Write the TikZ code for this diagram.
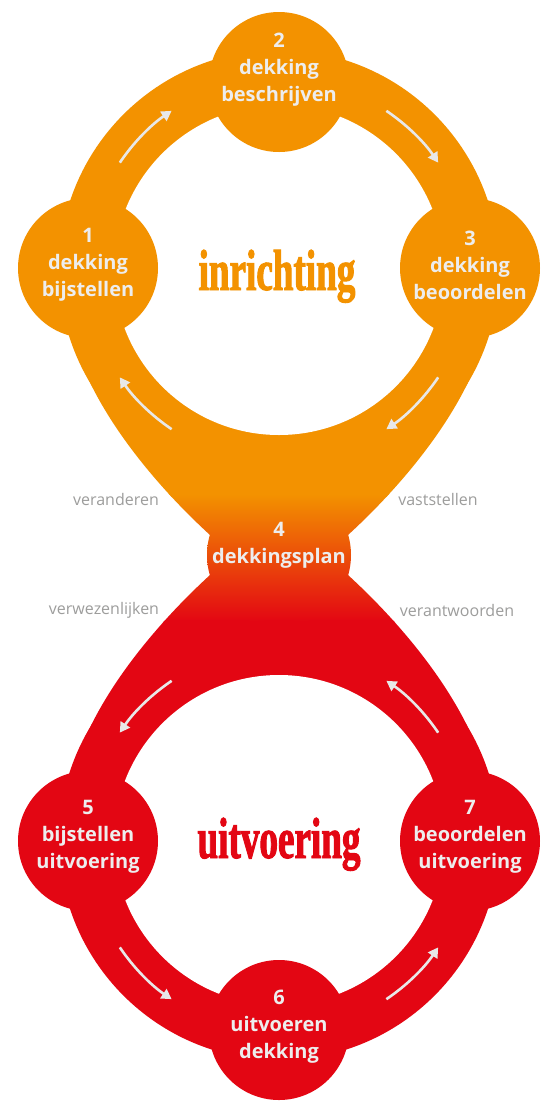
\documentclass[tikz,border=0pt]{standalone}
\usepackage{fontspec}
\setmainfont{Open Sans}
\newfontfamily\kopfont[FakeStretch=0.64, FakeBold=1.6]{Liberation Serif}
\usetikzlibrary{arrows.meta}

\begin{document}
\begin{tikzpicture}[x=1pt, y=-1pt,
  stap/.style={circle, minimum size=140pt, inner sep=0pt},
  staptekst/.style={align=center, text=tekstGrijs, font=\fontsize{20}{27}\selectfont\bfseries},
  werkwoord/.style={text=labelGrijs, font=\fontsize{16}{18}\selectfont},
  kop/.style={anchor=base, font=\kopfont\bfseries\fontsize{58}{62}\selectfont},
  overgang/.style={top color=oranje, middle color=oranje!78!rood, bottom color=rood},
  pijl/.style={draw=pijlGrijs, line width=2.6pt, -{Triangle[length=10pt, width=11pt]}}]
  \definecolor{oranje}{RGB}{243,146,0}
  \definecolor{rood}{RGB}{227,6,19}
  \definecolor{tekstGrijs}{RGB}{237,237,237}
  \definecolor{labelGrijs}{RGB}{157,157,156}
  \definecolor{pijlGrijs}{RGB}{232,232,232}

  \fill[white] (0,0) rectangle (544,1104);
  \coordinate (boven) at (279,270);
  \coordinate (onder) at (279,840);

  % trechter tussen de twee ringen
  \begin{scope}
    \clip (75,345) .. controls (95,410) and (150,480) .. (210,535) -- (210,575)
      .. controls (150,630) and (95,700) .. (75,765) -- (483,765)
      .. controls (463,700) and (408,630) .. (348,575) -- (348,535)
      .. controls (408,480) and (463,410) .. (483,345) -- cycle;
    \fill[oranje] (0,300) rectangle (544,497);
    \shade[overgang] (0,494) rectangle (544,622);
    \fill[rood] (0,620) rectangle (544,800);
  \end{scope}
  \begin{scope}
    \clip (279,555) circle[radius=72];
    \shade[overgang] (0,494) rectangle (544,622);
  \end{scope}

  % ringen
  \fill[oranje] (boven) circle[radius=220];
  \fill[rood]   (onder) circle[radius=220];
  \fill[white]  (boven) circle[radius=165];
  \fill[white]  (onder) circle[radius=165];

  \node[stap, fill=oranje] (s1) at (88,268)   {};
  \node[stap, fill=oranje] (s2) at (279,82)   {};
  \node[stap, fill=oranje] (s3) at (470,268)  {};
  \node[stap, fill=rood]   (s5) at (88,841)   {};
  \node[stap, fill=rood]   (s6) at (279,1030) {};
  \node[stap, fill=rood]   (s7) at (470,841)  {};

  \node[staptekst] (t1) at (88,265)   {1\\dekking\\bijstellen};
  \node[staptekst] (t2) at (279,70)   {2\\dekking\\beschrijven};
  \node[staptekst] (t3) at (470,265)  {3\\dekking\\beoordelen};
  \node[staptekst] (t4) at (279,545)  {4\\dekkingsplan};
  \node[staptekst] (t5) at (88,837)   {5\\bijstellen\\uitvoering};
  \node[staptekst] (t6) at (279,1027) {6\\uitvoeren\\dekking};
  \node[staptekst] (t7) at (470,837)  {7\\beoordelen\\uitvoering};

  \node[kop, text=oranje] (inrichting) at (277,290) {inrichting};
  \node[kop, text=rood]   (uitvoering) at (279,858) {uitvoering};

  \node[werkwoord] (veranderen)     at (116,499) {veranderen};
  \node[werkwoord] (vaststellen)    at (438,499) {vaststellen};
  \node[werkwoord] (verwezenlijken) at (104,610) {verwezenlijken};
  \node[werkwoord] (verantwoorden)  at (457,610) {verantwoorden};

  % pijlen: boven met de klok mee, onder tegen de klok in
  \foreach \h in {-135,-45,45,135}
    \draw[pijl] ([shift={({\h-11}:192)}]boven) arc[start angle=\h-11, end angle=\h+11, radius=192];
  \foreach \h in {-135,-45,45,135}
    \draw[pijl] ([shift={({\h+11}:192)}]onder) arc[start angle=\h+11, end angle=\h-11, radius=192];
\end{tikzpicture}
\end{document}
